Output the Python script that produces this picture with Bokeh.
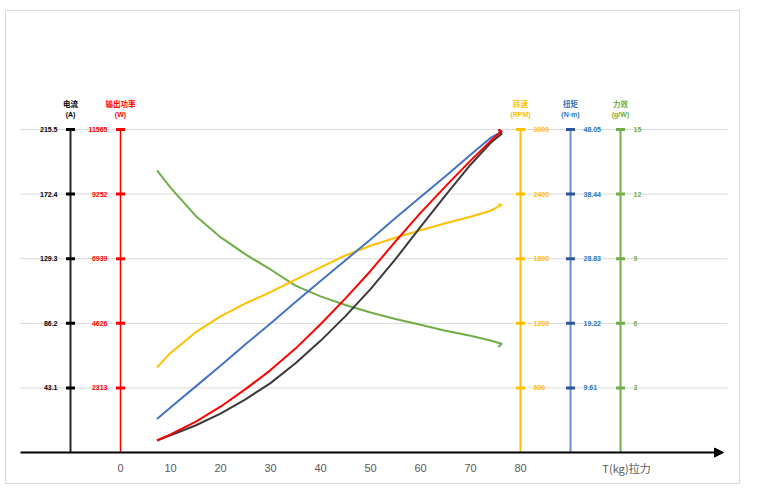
from bokeh.plotting import figure
from bokeh.models import Range1d, Arrow, NormalHead
from bokeh.core.properties import value
from bokeh.embed import file_html
from bokeh.resources import INLINE

# Pull test of a motor/propeller set: every series is sampled at the same pull values
pull_kg = [7.3, 10, 15, 20, 25, 30, 35, 40, 45, 50, 55, 60, 65, 70, 74, 76.2, 75.6]
current_a = [8, 11.5, 18, 26, 35.5, 46.3, 59.5, 74.5, 91, 109, 129, 150.5, 171.5, 192, 206.5, 212.5, 215.5]
power_w = [430, 650, 1100, 1640, 2270, 2950, 3720, 4590, 5520, 6500, 7560, 8580, 9530, 10450, 11150, 11500, 11565]
speed_rpm = [790, 925, 1115, 1265, 1385, 1490, 1605, 1720, 1830, 1920, 1995, 2065, 2130, 2190, 2245, 2300, 2305]
torque_nm = [5.0, 6.7, 9.8, 12.9, 16.1, 19.2, 22.4, 25.5, 28.6, 31.7, 34.9, 38.0, 41.1, 44.3, 46.8, 47.7, 48.05]
efficiency_gw = [13.1, 12.3, 11.0, 10.0, 9.2, 8.5, 7.75, 7.25, 6.85, 6.5, 6.2, 5.93, 5.65, 5.42, 5.2, 5.05, 4.9]

# Tick values and labels of the five value scales
current_ticks = [43.1, 86.2, 129.3, 172.4, 215.5]
current_labels = ["43.1", "86.2", "129.3", "172.4", "215.5"]
power_ticks = [2313, 4626, 6939, 9252, 11565]
power_labels = ["2313", "4626", "6939", "9252", "11565"]
speed_ticks = [600, 1200, 1800, 2400, 3000]
speed_labels = ["600", "1200", "1800", "2400", "3000"]
torque_ticks = [9.61, 19.22, 28.83, 38.44, 48.05]
torque_labels = ["9.61", "19.22", "28.83", "38.44", "48.05"]
efficiency_ticks = [3, 6, 9, 12, 15]
efficiency_labels = ["3", "6", "9", "12", "15"]

pull_ticks = [0, 10, 20, 30, 40, 50, 60, 70, 80]
pull_labels = ["0", "10", "20", "30", "40", "50", "60", "70", "80"]

W, H = 766, 496
# frame: 5..739 px horizontally, 10..483 px vertically
x_lo, x_hi = -23, 123.8
px_per_a = 323 / 215.5
y_lo = -31 / px_per_a
y_hi = 442 / px_per_a

p = figure(width=W, height=H, x_range=Range1d(x_lo, x_hi), y_range=Range1d(y_lo, y_hi),
           output_backend="svg", toolbar_location=None,
           x_axis_location=None, y_axis_location=None,
           min_border_left=5, min_border_right=W - 739, min_border_top=10, min_border_bottom=H - 483,
           outline_line_color="#d9d9d9", outline_line_width=1,
           background_fill_color="white", border_fill_color="white")
p.grid.visible = False

FONT = value("Liberation Sans")
CJK = value("Noto Sans CJK SC")

scales = [
    # name, full-scale value, axis x, ticks, labels, side, line col, tick col, text col, title, unit
    ("current", 215.5, -10, current_ticks, current_labels, "left", "#262626", "#000000", "#000000", "电流", "(A)"),
    ("power", 11565, 0, power_ticks, power_labels, "left", "#FF0000", "#FF0000", "#FF0000", "输出功率", "(W)"),
    ("speed", 3000, 80, speed_ticks, speed_labels, "right", "#FFC000", "#FFC000", "#FFC000", "转速", "(RPM)"),
    ("torque", 48.05, 90, torque_ticks, torque_labels, "right", "#6F8FD8", "#2F5597", "#2E75B6", "扭矩", "(N·m)"),
    ("efficiency", 15, 100, efficiency_ticks, efficiency_labels, "right", "#70AD47", "#70AD47", "#70AD47", "力效", "(g/W)"),
]

for name, full, *_ in scales:
    k = full / 215.5
    p.extra_y_ranges[name] = Range1d(y_lo * k, y_hi * k)

# horizontal gridlines
p.segment(x0=-20, x1=121.4, y0=current_ticks, y1=current_ticks, line_color="#d9d9d9", line_width=1)

# value scales drawn as vertical lines with bar ticks
for name, full, ax, ticks, labels, side, lcol, tcol, txtcol, title, unit in scales:
    p.segment(x0=ax, x1=ax, y0=0, y1=full, y_range_name=name,
              line_color=lcol, line_width=1.5 if name == "power" else 2)
    p.rect(x=[ax] * len(ticks), y=ticks, width=9, height=3, width_units="screen",
           height_units="screen", fill_color=tcol, line_color=None, y_range_name=name)
    off = -13 if side == "left" else 13
    p.text(x=[ax] * len(ticks), y=ticks, text=labels, y_range_name=name,
           x_offset=off, text_align="right" if side == "left" else "left",
           text_baseline="middle", text_font=FONT, text_font_size="7px",
           text_font_style="bold", text_color=txtcol)
    p.text(x=[ax], y=[full], text=[title], y_range_name=name, y_offset=-26,
           text_align="center", text_baseline="middle", text_font=CJK,
           text_font_size="7.5px", text_font_style="bold", text_color=txtcol)
    p.text(x=[ax], y=[full], text=[unit], y_range_name=name, y_offset=-15,
           text_align="center", text_baseline="middle", text_font=FONT,
           text_font_size="7px", text_font_style="bold", text_color=txtcol)

# measured curves
p.line(pull_kg, efficiency_gw, y_range_name="efficiency", line_color="#70AD47", line_width=2, line_join="round")
p.line(pull_kg, speed_rpm, y_range_name="speed", line_color="#FFC000", line_width=2, line_join="round")
p.line(pull_kg, torque_nm, y_range_name="torque", line_color="#4472C4", line_width=2, line_join="round")
p.line(pull_kg, current_a, line_color="#3A3A3A", line_width=2, line_join="round")
p.line(pull_kg, power_w, y_range_name="power", line_color="#FF0000", line_width=2, line_join="round")

# pull axis with arrow head
p.add_layout(Arrow(end=NormalHead(size=9, fill_color="black", line_color="black"),
                   x_start=-20, y_start=0, x_end=120.6, y_end=0,
                   line_color="black", line_width=2))
p.text(x=pull_ticks, y=[0] * len(pull_ticks), text=pull_labels, y_offset=15,
       text_align="center", text_baseline="middle", text_font=FONT,
       text_font_size="11px", text_color="#595959")
p.text(x=[101.2], y=[0], text=["T(kg)拉力"], y_offset=15, text_align="center",
       text_baseline="middle", text_font=CJK, text_font_size="11px", text_color="#595959")

open("out.html", "w").write(file_html(p, INLINE))
